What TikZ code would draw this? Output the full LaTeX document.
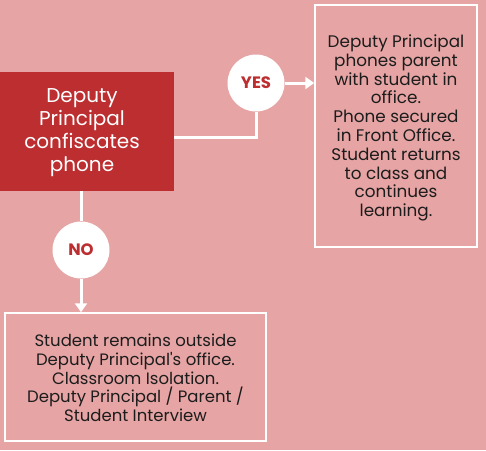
\documentclass[tikz,border=0pt]{standalone}
\usepackage{fontspec}
\setmainfont{Poppins}[Ligatures=TeXOff]
\usetikzlibrary{arrows.meta}
\definecolor{bgpink}{HTML}{E6A4A4}
\definecolor{boxred}{HTML}{BC2E30}
\definecolor{txtdark}{HTML}{1C1C1C}
\tikzset{
  x=1pt,y=-1pt,
  conn/.style={draw=white,line width=3pt},
  arr/.style={conn,-{Triangle[width=12pt,length=9pt]}},
  decision/.style={circle,fill=white,minimum size=57pt,inner sep=0pt,text=boxred,font=\fontsize{16.5}{18}\selectfont\bfseries},
  outbox/.style={draw=white,line width=1.5pt,inner sep=0pt,align=center,text=txtdark},
}
\begin{document}
\begin{tikzpicture}
\fill[bgpink] (0,0) rectangle (486,450);
\useasboundingbox (0,0) rectangle (486,450);
\node[fill=boxred,minimum width=174pt,minimum height=119pt,inner sep=0pt] (red) at (87,131.5) {};
\node[text=white,align=center,font=\fontsize{20}{23}\selectfont] (redtxt) at (82,133) {Deputy\\Principal\\confiscates\\phone};
\node[outbox,minimum width=162pt,minimum height=242pt] (right) at (396,126) {};
\node[align=center,text=txtdark,font=\fontsize{16.8}{18.8}\selectfont] (righttxt) at (396,128) {Deputy Principal\\phones parent\\with student in\\office.\\Phone secured\\in Front Office.\\Student returns\\to class and\\continues\\learning.};
\node[outbox,minimum width=261pt,minimum height=128pt] (bot) at (135.5,377) {};
\node[align=center,text=txtdark,font=\fontsize{16.5}{18.7}\selectfont] (bottxt) at (135.5,378) {Student remains outside\\Deputy Principal's office.\\Classroom Isolation.\\Deputy Principal / Parent /\\Student Interview};
\node[decision] (yes) at (256,83) {YES};
\node[decision] (no) at (81,250) {NO};
\draw[conn] ([yshift=-6pt]red.east) -| (yes.south);
\draw[arr] (yes.east) -- (right.west |- yes.east);
\draw[conn] (red.south -| no) -- (no.north);
\draw[arr] (no.south) -- (bot.north -| no);
\end{tikzpicture}
\end{document}
